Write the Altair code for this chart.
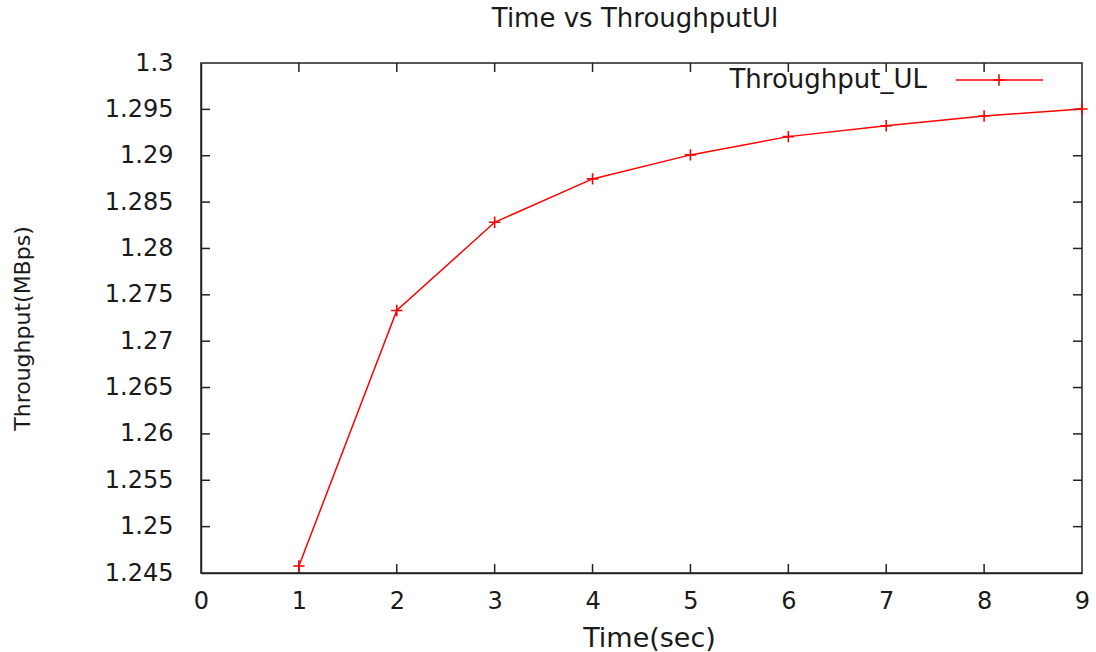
import altair as alt
import pandas as pd

# ---- data ----
time_sec = [1, 2, 3, 4, 5, 6, 7, 8, 9]
throughput_ul = [1.24575, 1.27331, 1.28282, 1.28750, 1.29009, 1.29206, 1.29324, 1.29429, 1.29504]

x_ticks = [0, 1, 2, 3, 4, 5, 6, 7, 8, 9]
y_ticks = [1.245, 1.25, 1.255, 1.26, 1.265, 1.27, 1.275, 1.28, 1.285, 1.29, 1.295, 1.3]
series_name = "Throughput_UL"
chart_title = "Time vs ThroughputUl"

W, H = 881, 510
FONT = "DejaVu Sans"
TXT = "#1a1a1a"
RED = "#ff0000"
FRAME = "#222222"
TICK = 9
PLUS = "M-1,0H1M0,-1V1"

df = pd.DataFrame({"t": time_sec, "v": throughput_ul})
xt = pd.DataFrame({"xt": x_ticks[1:-1]})
yt = pd.DataFrame({"yt": y_ticks[1:-1]})

xs = alt.Scale(domain=[0, 9], nice=False, zero=False)
ys = alt.Scale(domain=[1.245, 1.3], nice=False, zero=False)

x_axis = alt.Axis(values=x_ticks, ticks=False, grid=False, domain=True,
                  domainColor=FRAME, domainWidth=1.5, format="d",
                  labelFont=FONT, labelFontSize=24, labelColor=TXT, labelPadding=16,
                  title="Time(sec)", titleFont=FONT, titleFontSize=27, titleFontWeight="normal",
                  titleColor=TXT, titleX=448, titleY=65, titleBaseline="middle", titleAlign="center",
                  labelFlush=False)
y_axis = alt.Axis(values=y_ticks, ticks=False, grid=False, domain=True,
                  domainColor=FRAME, domainWidth=1.5,
                  labelFont=FONT, labelFontSize=24, labelColor=TXT, labelPadding=28,
                  labelExpr="format(datum.value, '~g')",
                  title="Throughput(MBps)", titleFont=FONT, titleFontSize=22, titleFontWeight="normal",
                  titleColor=TXT, titleX=-179, titleY=265, titleAngle=270,
                  titleBaseline="middle", titleAlign="center", labelFlush=False)

line = alt.Chart(df).mark_line(color=RED, strokeWidth=1.5).encode(
    x=alt.X("t:Q", scale=xs, axis=x_axis),
    y=alt.Y("v:Q", scale=ys, axis=y_axis),
)
pts = alt.Chart(df).mark_point(shape=PLUS, size=130, filled=False, color=RED,
                               strokeWidth=1.6, opacity=1).encode(
    x=alt.X("t:Q", scale=xs), y=alt.Y("v:Q", scale=ys))

tk_style = dict(color=FRAME, strokeWidth=1.5)
bottom_ticks = alt.Chart(xt).mark_rule(**tk_style).encode(
    x=alt.X("xt:Q", scale=xs), y=alt.value(H), y2=alt.value(H - TICK))
top_ticks = alt.Chart(xt).mark_rule(**tk_style).encode(
    x=alt.X("xt:Q", scale=xs), y=alt.value(0), y2=alt.value(TICK))
left_ticks = alt.Chart(yt).mark_rule(**tk_style).encode(
    y=alt.Y("yt:Q", scale=ys), x=alt.value(0), x2=alt.value(TICK))
right_ticks = alt.Chart(yt).mark_rule(**tk_style).encode(
    y=alt.Y("yt:Q", scale=ys), x=alt.value(W - TICK), x2=alt.value(W))

leg = pd.DataFrame({"name": [series_name]})
leg_text = alt.Chart(leg).mark_text(font=FONT, fontSize=26, color=TXT, align="right",
                                    baseline="middle").encode(
    text="name:N", x=alt.value(726), y=alt.value(17))
leg_line = alt.Chart(leg).mark_rule(color=RED, strokeWidth=1.5).encode(
    x=alt.value(755), x2=alt.value(842), y=alt.value(17))
leg_pt = alt.Chart(leg).mark_point(shape=PLUS, size=130, filled=False, color=RED,
                                   strokeWidth=1.6, opacity=1).encode(
    x=alt.value(798), y=alt.value(17))

ttl = pd.DataFrame({"title": [chart_title]})
title_text = alt.Chart(ttl).mark_text(font=FONT, fontSize=26, color=TXT, align="center",
                                      baseline="alphabetic").encode(
    text="title:N", x=alt.value(434), y=alt.value(-36))

chart = alt.layer(bottom_ticks, top_ticks, left_ticks, right_ticks, line, pts,
                  leg_text, leg_line, leg_pt, title_text).properties(
    width=W, height=H,
    autosize=alt.AutoSizeParams(type="none"),
    padding={"left": 201, "top": 63, "right": 14, "bottom": 79},
).configure(background="white").configure_view(stroke=FRAME, strokeWidth=1.5)

chart.save("out.html", embed_options={"renderer": "svg", "actions": False})
